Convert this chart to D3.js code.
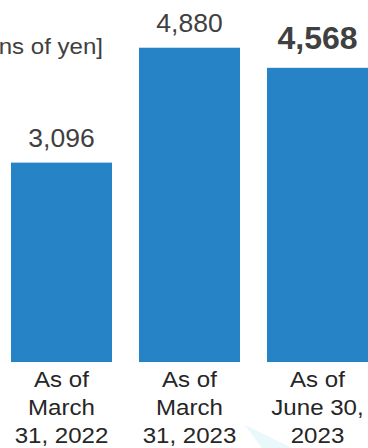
<!DOCTYPE html>
<html>
<head>
<meta charset="utf-8">
<script src="https://cdn.jsdelivr.net/npm/d3@7"></script>
<style>
  html, body { margin: 0; padding: 0; background: #ffffff; }
  svg { display: block; font-family: "Liberation Sans", Arial, sans-serif; }
</style>
</head>
<body>
<svg id="chart" width="368" height="448"></svg>
<script>
// Balance at each reporting date
const categories = ["2022-03-31", "2023-03-31", "2023-06-30"];
const values = [3096, 4880, 4568];
const categoryLines = [
  ["As of", "March", "31, 2022"],
  ["As of", "March", "31, 2023"],
  ["As of", "June 30,", "2023"]
];
const highlighted = [false, false, true];
const unitLabel = "[Millions of yen]";

const svg = d3.select("#chart");

const x = d3.scaleBand()
  .domain(categories)
  .range([-2.5, 381.5])
  .paddingInner(27 / 128)
  .paddingOuter(13.5 / 128);

const y = d3.scaleLinear()
  .domain([0, 5000])
  .range([362, 40]);

const fmt = d3.format(",");
const wide = 1.12; // horizontal stretch of the caption font

// faint decorative wedge in the background
svg.append("polygon")
  .attr("points", "245,425 262,448 292,448")
  .attr("fill", "#e8f8fb");

// unit label, running off the left edge
svg.append("text")
  .attr("transform", `translate(103,54) scale(${wide},1)`)
  .attr("text-anchor", "end")
  .attr("font-size", 21.5)
  .attr("fill", "#404040")
  .text(unitLabel);

// bars
svg.selectAll("rect.bar")
  .data(values)
  .join("rect")
  .attr("class", "bar")
  .attr("x", (d, i) => x(categories[i]))
  .attr("y", d => y(d))
  .attr("width", x.bandwidth())
  .attr("height", d => y(0) - y(d))
  .attr("fill", "#2683c6");

// value labels
svg.selectAll("text.value")
  .data(values)
  .join("text")
  .attr("class", "value")
  .attr("x", (d, i) => x(categories[i]) + x.bandwidth() / 2)
  .attr("y", (d, i) => y(d) - (highlighted[i] ? 19 : 16))
  .attr("text-anchor", "middle")
  .attr("font-size", (d, i) => highlighted[i] ? 32 : 26.5)
  .attr("font-weight", (d, i) => highlighted[i] ? "bold" : "normal")
  .attr("fill", "#404040")
  .text(d => fmt(d));

// category labels (three lines each)
const cat = svg.selectAll("g.cat")
  .data(categories)
  .join("g")
  .attr("class", "cat")
  .attr("transform", d => `translate(${x(d) + x.bandwidth() / 2},0) scale(${wide},1)`);

cat.append("text")
  .attr("text-anchor", "middle")
  .attr("font-size", 21.5)
  .attr("fill", "#262626")
  .selectAll("tspan")
  .data((d, i) => categoryLines[i])
  .join("tspan")
  .attr("x", 0)
  .attr("y", (d, j) => 387 + j * 28)
  .text(d => d);
</script>
</body>
</html>
